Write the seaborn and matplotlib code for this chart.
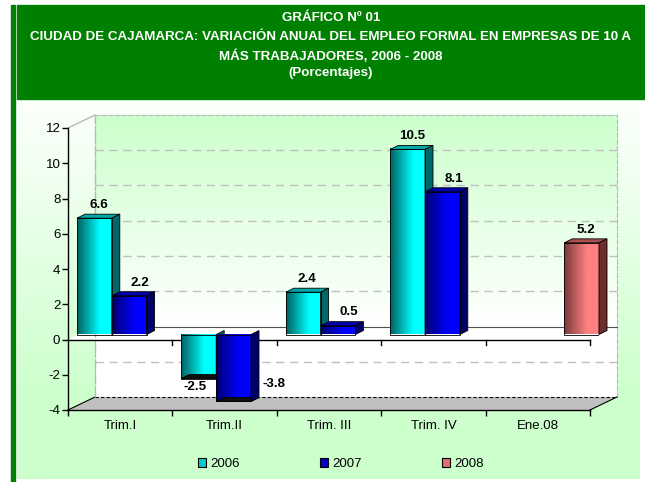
import numpy as np
import pandas as pd
import seaborn as sns
import matplotlib.pyplot as plt
from matplotlib.colors import LinearSegmentedColormap
from matplotlib.patches import Polygon, Rectangle
from matplotlib.transforms import IdentityTransform

plt.rcParams['font.family'] = ['Liberation Sans', 'DejaVu Sans']
plt.rcParams['axes.unicode_minus'] = False

# -----------------------------
# Data
# -----------------------------
periodos = ["Trim.I", "Trim.II", "Trim. III", "Trim. IV", "Ene.08"]
anios = ["2006", "2007", "2008"]
v2006 = [6.6, -2.5, 2.4, 10.5, None]
v2007 = [2.2, -3.8, 0.5, 8.1, None]
v2008 = [None, None, None, None, 5.2]
yticks = [-4, -2, 0, 2, 4, 6, 8, 10, 12]

titulo = ["GRÁFICO Nº 01",
          "CIUDAD DE CAJAMARCA: VARIACIÓN ANUAL DEL EMPLEO FORMAL EN EMPRESAS DE 10 A",
          "MÁS TRABAJADORES, 2006 - 2008",
          "(Porcentajes)"]

rows = []
for anio, vals in zip(anios, [v2006, v2007, v2008]):
    for p, v in zip(periodos, vals):
        if v is not None:
            rows.append({"periodo": p, "anio": anio, "valor": v})
df = pd.DataFrame(rows)

# colours: dark side -> bright side of each bar, side face, top face, legend
grad_cols = [("#006060", "#00FFFF"), ("#000070", "#0000FF"), ("#7A3A3A", "#FF8080")]
side_cols = ["#006868", "#000066", "#6A2E2E"]
top_cols = ["#00A8A8", "#0000B0", "#A85050"]
leg_cols = ["#00CCCC", "#0000CC", "#E07070"]

# -----------------------------
# Layout (pixels)
# -----------------------------
W, H = 645, 482
fig = plt.figure(figsize=(W / 100, H / 100), dpi=100)

def rect(x0, y0, x1, y1):
    return [x0 / W, 1 - y1 / H, (x1 - x0) / W, (y1 - y0) / H]

FX0, FX1, FY0, FY1 = 68, 590, 128, 410   # front plot box
DX, DY = 27, 13                          # depth of the back wall
BX, BY = 9, 5                            # bars sit a bit behind the front
YMIN, YMAX = -4, 12

def fy(v):
    return FY1 - (v - YMIN) / (YMAX - YMIN) * (FY1 - FY0)

# background + banner
ax_bg = fig.add_axes([0, 0, 1, 1], zorder=0)
ax_bg.axis("off")
bg = LinearSegmentedColormap.from_list("bg", ["#FCFFFC", "#CCFFCC"])
ax_bg.imshow(np.clip(np.linspace(0, 1.25, 200), 0, 1).reshape(-1, 1),
             extent=[17, 640, 479, 99], cmap=bg, aspect="auto")
ax_bg.add_patch(Rectangle((17, 5), W - 17, 94, color="#008000"))
ax_bg.add_patch(Rectangle((11, 5), 4, H - 5, color="#008000"))
for i, line in enumerate(titulo):
    ax_bg.text(331, 18 + i * 19 - (i == 3) * 2, line, color="white", fontsize=9.6,
               fontweight="bold", ha="center", va="center")
ax_bg.set_xlim(0, W)
ax_bg.set_ylim(H, 0)

# back wall
ax_back = fig.add_axes(rect(FX0 + DX, FY0 - DY, FX1 + DX, FY1 - DY), zorder=1)
wall = LinearSegmentedColormap.from_list("wall", ["#CCFFCC", "#FFFFFF"])
ax_back.imshow(np.linspace(0, 1, 100).reshape(-1, 1), extent=[-0.5, 4.5, 0, YMAX],
               cmap=wall, aspect="auto")
for t in yticks:
    if t not in (YMIN, 0, YMAX):
        ax_back.axhline(t, color="#C0C0C0", ls=(0, (6, 4)), lw=1)
ax_back.set_xlim(-0.5, 4.5)
ax_back.set_ylim(YMIN, YMAX)
ax_back.set_xticks([])
ax_back.set_yticks([])
for s in ["top", "right", "left"]:
    ax_back.spines[s].set_color("#B8B8B8")
    ax_back.spines[s].set_linestyle((0, (4, 2)))
ax_back.spines["bottom"].set_visible(False)

# floor and zero plane
ax_deco = fig.add_axes([0, 0, 1, 1], zorder=2)
ax_deco.axis("off")
yb = fy(YMIN)
ax_deco.add_patch(Polygon([(FX0, yb), (FX1, yb), (FX1 + DX, yb - DY), (FX0 + DX, yb - DY)],
                          fc="#C0C0C0", ec="none"))
ax_deco.plot([FX0 + DX, FX1 + DX], [yb - DY, yb - DY], color="black", lw=0.8, ls=(0, (3, 2)))
ax_deco.plot([FX0, FX0 + DX], [yb, yb - DY], color="black", lw=0.8)
ax_deco.plot([FX1, FX1 + DX], [yb, yb - DY], color="black", lw=0.8)
ax_deco.plot([FX0, FX0 + DX], [fy(YMAX), fy(YMAX) - DY], color="#B8B8B8", lw=1)
ax_deco.plot([FX0 + DX, FX0 + DX], [fy(YMAX) - DY, yb - DY], color="#B8B8B8", lw=1,
             ls=(0, (6, 2, 1, 2)))
y0 = fy(0)
ax_deco.add_patch(Polygon([(FX0, y0), (FX1, y0), (FX1 + DX, y0 - DY), (FX0 + DX, y0 - DY)],
                          fc="white", ec="none"))
ax_deco.plot([FX0 + DX, FX1 + DX], [y0 - DY, y0 - DY], color="#505050", lw=0.8)
ax_deco.plot([FX0, FX1], [y0, y0], color="black", lw=1)
for i in range(1, 6):
    x = FX0 + i * (FX1 - FX0) / 5
    ax_deco.plot([x, x], [y0, y0 + 5], color="black", lw=1)
ax_deco.set_xlim(0, W)
ax_deco.set_ylim(H, 0)

# -----------------------------
# Bars (seaborn)
# -----------------------------
ax_bar = fig.add_axes(rect(FX0 + BX, FY0 - BY, FX1 + BX, FY1 - BY), zorder=3)
sns.barplot(data=df, x="periodo", y="valor", hue="anio", order=periodos,
            hue_order=anios, palette=leg_cols, width=1.0, dodge=True,
            errorbar=None, edgecolor="black", linewidth=0.6, legend=False, ax=ax_bar)
ax_bar.set_xlim(-0.5, 4.5)
ax_bar.set_ylim(YMIN, YMAX)
ax_bar.axis("off")

fig.canvas.draw()
ddx, ddy = 8, 4
grad = np.clip(np.linspace(0, 1.5, 64), 0, 1).reshape(1, -1)
for ci, cont in enumerate(ax_bar.containers):
    cmap = LinearSegmentedColormap.from_list(f"c{ci}", list(grad_cols[ci]))
    z = 2 + ci * 0.1
    for bar in cont:
        bb = bar.get_bbox()
        val = bar.get_height()
        ax_bar.imshow(grad, extent=[bb.x0, bb.x1, bb.y0, bb.y1], cmap=cmap,
                      aspect="auto", zorder=z, interpolation="bilinear")
        bar.set_facecolor("none")
        bar.set_zorder(z + 0.03)
        (px0, py0), (px1, py1) = ax_bar.transData.transform([[bb.x0, bb.y0], [bb.x1, bb.y1]])
        top = Polygon([(px0, py1), (px1, py1), (px1 + ddx, py1 + ddy), (px0 + ddx, py1 + ddy)],
                      fc=top_cols[ci] if val >= 0 else "#101010", ec="black", lw=0.6,
                      transform=IdentityTransform(), zorder=z + 0.02, clip_on=False)
        side = Polygon([(px1, py0), (px1 + ddx, py0 + ddy), (px1 + ddx, py1 + ddy), (px1, py1)],
                       fc=side_cols[ci], ec="black", lw=0.6, transform=IdentityTransform(),
                       zorder=z + 0.02, clip_on=False)
        ax_bar.add_patch(top)
        ax_bar.add_patch(side)
        xc = (bb.x0 + bb.x1) / 2
        if val >= 0:
            ax_bar.annotate(f"{val:.1f}", xy=(xc, val), xytext=(3 + 5 * (ci == 1), 9.5),
                            textcoords="offset points", ha="center", va="center",
                            fontsize=9.6, fontweight="bold", zorder=5)
        elif val > -3:
            ax_bar.annotate(f"{val:.1f}", xy=(xc, val), xytext=(-3, -6),
                            textcoords="offset points", ha="center", va="center",
                            fontsize=9.6, fontweight="bold", zorder=5)
        else:
            ax_bar.annotate(f"{val:.1f}", xy=(bb.x1, val + 1), xytext=(8, 0),
                            textcoords="offset points", ha="left", va="center",
                            fontsize=9.6, fontweight="bold", zorder=5)
ax_bar.set_xlim(-0.5, 4.5)
ax_bar.set_ylim(YMIN, YMAX)

# -----------------------------
# Front axes (ticks and labels)
# -----------------------------
ax_front = fig.add_axes(rect(FX0, FY0, FX1, FY1), zorder=4)
ax_front.patch.set_alpha(0)
ax_front.set_xlim(-0.5, 4.5)
ax_front.set_ylim(YMIN, YMAX)
for s in ["top", "right"]:
    ax_front.spines[s].set_visible(False)
for s in ["left", "bottom"]:
    ax_front.spines[s].set_color("black")
    ax_front.spines[s].set_linewidth(1)
ax_front.set_yticks(yticks)
ax_front.tick_params(axis="y", length=4, width=1, labelsize=9.5, pad=1.5, colors="black")
ax_front.set_xticks(np.arange(-0.5, 5, 1))
ax_front.set_xticklabels([])
ax_front.set_xticks(range(5), minor=True)
ax_front.set_xticklabels(periodos, minor=True)
ax_front.tick_params(axis="x", which="major", length=4, width=1)
ax_front.tick_params(axis="x", which="minor", length=0, pad=7, labelsize=9.5)

handles = [Rectangle((0, 0), 1, 1, fc=c, ec="black", lw=0.8) for c in leg_cols]
fig.legend(handles, anios, loc="center", bbox_to_anchor=(341 / W, 1 - 464 / H), ncol=3,
           frameon=False, fontsize=9.5, handlelength=0.6, handleheight=0.6,
           handletextpad=0.3, columnspacing=6.1)

plt.savefig("out.png", dpi=100)
